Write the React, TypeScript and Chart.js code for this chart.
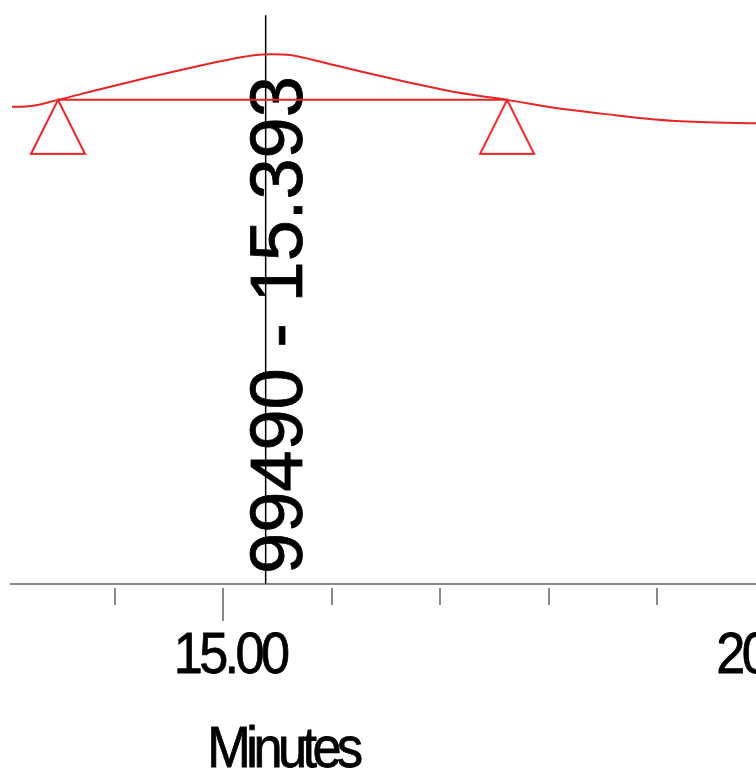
import React, { useEffect, useRef } from "react";
import { Chart, registerables } from "chart.js";

Chart.register(...registerables);

// Detector trace (minutes vs. relative signal)
const timeMinutes = [
  13.055, 13.212, 13.479, 13.839, 14.281, 14.724, 15.083, 15.304, 15.45,
  15.618, 15.839, 16.281, 16.733, 17.175, 17.618, 18.069, 18.512, 18.954,
  19.396, 19.912,
];
const signal = [
  81.7, 81.8, 82.9, 84.6, 86.6, 88.5, 89.9, 90.6, 90.7, 90.6, 89.7, 87.7,
  85.8, 84.1, 82.9, 81.5, 80.5, 79.6, 79.1, 78.9,
];

// Integration baseline for the peak (start / end)
const baselineTimes = [13.479, 17.618];
const baselineSignal = [82.9, 82.9];

// Peak annotation
const retentionTime = 15.393;
const peakArea = 99490;
const markerTop = 97.4;

// Axis ticks
const minorTicks = [14, 16, 17, 18, 19];
const majorTicks = [15, 20];
const axisTitle = "Minutes";

const RED = "rgb(230,38,38)";
const FONT = "'Liberation Sans', Arial, sans-serif";

function makeTriangle(): HTMLCanvasElement {
  const c = document.createElement("canvas");
  c.width = 60;
  c.height = 116;
  const g = c.getContext("2d")!;
  g.strokeStyle = RED;
  g.lineWidth = 2;
  g.beginPath();
  g.moveTo(30, 58);
  g.lineTo(57, 112);
  g.lineTo(3, 112);
  g.closePath();
  g.stroke();
  return c;
}

// Draws condensed, tightly spaced axis text centred at (x, y)
function condensedText(
  ctx: CanvasRenderingContext2D,
  text: string,
  x: number,
  y: number,
  sx: number,
  spacing: number
) {
  ctx.save();
  ctx.translate(x, y);
  ctx.scale(sx, 1);
  (ctx as any).letterSpacing = `${spacing}px`;
  const w = ctx.measureText(text).width;
  ctx.textAlign = "left";
  ctx.fillText(text, -w / 2, 0);
  ctx.strokeText(text, -w / 2, 0);
  ctx.restore();
}

const annotationPlugin = {
  id: "chromAnnotations",
  beforeDatasetsDraw(chart: any) {
    const ctx = chart.ctx as CanvasRenderingContext2D;
    const x = chart.scales.x;
    const area = chart.chartArea;
    const px = x.getPixelForValue(retentionTime);
    ctx.save();
    ctx.translate(px + 36, area.bottom - 10);
    ctx.rotate(-Math.PI / 2);
    ctx.font = `74px ${FONT}`;
    ctx.fillStyle = "#000";
    ctx.strokeStyle = "#000";
    ctx.lineWidth = 0.8;
    ctx.textAlign = "left";
    ctx.textBaseline = "alphabetic";
    const label = `${peakArea} - ${retentionTime.toFixed(3)}`;
    ctx.fillText(label, 0, 0);
    ctx.strokeText(label, 0, 0);
    ctx.restore();
  },
  afterDraw(chart: any) {
    const ctx = chart.ctx as CanvasRenderingContext2D;
    const x = chart.scales.x;
    const bottom = chart.chartArea.bottom;
    ctx.save();
    ctx.strokeStyle = "#8a8a8a";
    ctx.lineWidth = 2;
    const tick = (v: number, len: number) => {
      const p = Math.round(x.getPixelForValue(v));
      ctx.beginPath();
      ctx.moveTo(p, bottom + 4);
      ctx.lineTo(p, bottom + 4 + len);
      ctx.stroke();
    };
    minorTicks.forEach((v) => tick(v, 17));
    majorTicks.forEach((v) => tick(v, 33));

    ctx.fillStyle = "#000";
    ctx.strokeStyle = "#000";
    ctx.lineWidth = 0.8;
    ctx.textBaseline = "alphabetic";
    ctx.font = `58px ${FONT}`;
    majorTicks.forEach((v) => {
      condensedText(ctx, v.toFixed(2), x.getPixelForValue(v) + 7, bottom + 89, 0.9, -4);
    });

    condensedText(ctx, axisTitle, 283, bottom + 183, 0.9, -5);
    ctx.restore();
  },
};

export default function App() {
  const ref = useRef<HTMLCanvasElement | null>(null);

  useEffect(() => {
    if (!ref.current) return;
    const tri = makeTriangle();
    const chart = new Chart(ref.current, {
      type: "line",
      data: {
        datasets: [
          {
            data: timeMinutes.map((t, i) => ({ x: t, y: signal[i] })),
            borderColor: RED,
            borderWidth: 2,
            pointRadius: 0,
            cubicInterpolationMode: "monotone",
          },
          {
            data: baselineTimes.map((t, i) => ({ x: t, y: baselineSignal[i] })),
            borderColor: RED,
            borderWidth: 2,
            pointStyle: tri as any,
            pointRadius: 10,
          },
          {
            data: [
              { x: retentionTime, y: 0 },
              { x: retentionTime, y: markerTop },
            ],
            borderColor: "#000",
            borderWidth: 1.5,
            pointRadius: 0,
          },
        ],
      },
      options: {
        animation: false,
        responsive: false,
        devicePixelRatio: 1,
        layout: {
          autoPadding: false,
          padding: { left: 11, right: 0, top: 0, bottom: 0 },
        },
        plugins: {
          legend: { display: false },
          tooltip: { enabled: false },
        },
        scales: {
          x: {
            type: "linear",
            min: 13.046,
            max: 19.912,
            ticks: { display: false },
            grid: { display: false },
            border: { display: true, color: "#8a8a8a", width: 2 },
            afterFit: (s: any) => {
              s.height = 193;
            },
          },
          y: {
            display: false,
            min: 0,
            max: 100,
          },
        },
      },
      plugins: [annotationPlugin],
    });
    return () => chart.destroy();
  }, []);

  return (
    <div
      style={{
        position: "fixed",
        left: 0,
        top: 0,
        width: 756,
        height: 777,
        background: "#fff",
      }}
    >
      <canvas ref={ref} width={756} height={777} />
    </div>
  );
}
